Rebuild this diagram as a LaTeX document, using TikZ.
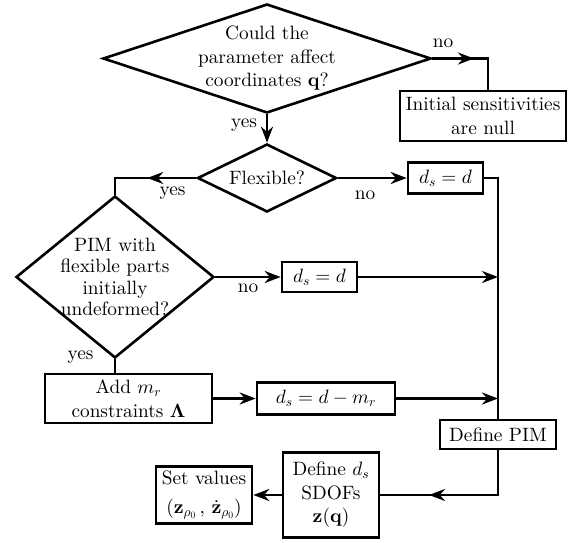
\documentclass[tikz,border=0pt]{standalone}
\usepackage{amsmath}
\usepackage{bm}
\usepackage{fontspec}
\setmainfont{lmroman10-regular}[Extension = .otf, BoldFont = lmroman10-bold,
  ItalicFont = lmroman10-italic, BoldItalicFont = lmroman10-bolditalic]
\DeclareFontShape{OML}{cmm}{m}{it}{<->cmmi10}{}
\DeclareFontShape{OML}{cmm}{b}{it}{<->cmmib10}{}
\DeclareFontShape{OMS}{cmsy}{m}{n}{<->cmsy10}{}
\DeclareFontShape{OMS}{cmsy}{b}{n}{<->cmbsy10}{}
\DeclareFontShape{OMX}{cmex}{m}{n}{<->cmex10}{}
\DeclareFontShape{OT1}{cmr}{m}{n}{<->cmr10}{}
\DeclareFontShape{OT1}{cmr}{bx}{n}{<->cmbx10}{}
\usetikzlibrary{shapes.geometric,arrows.meta,decorations.markings}
\tikzset{decision/.style={draw = black, diamond, line width = 2.6pt,
    inner sep = 0pt, align = center},
  block/.style={draw = black, rectangle, line width = 2.6pt,
    inner sep = 2pt, align = center},
  link/.style={line width = 2.6pt, -{Stealth[length = 16pt, width = 12pt]}},
  wire/.style={line width = 2.6pt},
  midarrow/.style={postaction = {decorate}, decoration = {markings,
    mark = at position #1 with {\arrow{Stealth[length = 16pt, width = 12pt]}}}},
  midarrow/.default = 0.5
}

\begin{document}
\begin{tikzpicture}[x = 1pt, y = -1pt, font = \fontsize{19.3}{23.5}\selectfont]
    \useasboundingbox (0, 0) rectangle (574, 543);
    \draw (267, 58.5) node[decision, aspect = 3, inner sep = -6pt,
    minimum width = 328pt, minimum height = 109pt]
    (param) {Could the\\parameter affect\\coordinates $\mathbf{q}$?};
    \draw (483, 116) node[block, minimum width = 166pt, minimum height = 50pt]
    (null) {Initial sensitivities\\are null};
    \draw (267, 178) node[decision, aspect = 2, minimum width = 139pt,
    minimum height = 68pt]
    (flex) {Flexible?};
    \draw (445.5, 178) node[block, minimum width = 75pt, minimum height = 31pt]
    (dsA) {$d_s = d$};
    \draw (115, 277) node[decision, aspect = 1.2, inner sep = -8pt,
    minimum width = 198pt, minimum height = 162pt,
    font = \fontsize{19.3}{21.5}\selectfont]
    (pim) {PIM with\\flexible parts\\initially\\undeformed?};
    \draw (319.5, 277) node[block, minimum width = 75pt, minimum height = 30pt]
    (dsB) {$d_s = d$};
    \draw (128.5, 398.5) node[block, minimum width = 167pt, minimum height = 49pt]
    (add) {Add $m_r$\\constraints $\boldsymbol{\Lambda}$};
    \draw (326, 398.5) node[block, minimum width = 138pt, minimum height = 32pt]
    (dsC) {$d_s = d - m_r$};
    \draw (498, 434.5) node[block, minimum width = 116pt, minimum height = 29pt]
    (define) {Define PIM};
    \draw (331, 495) node[block, minimum width = 96pt, minimum height = 85pt]
    (sdof) {Define $d_s$\\SDOFs\\$\mathbf{z}(\mathbf{q})$};
    \draw (204, 495) node[block, minimum width = 96pt, minimum height = 57pt]
    (setval) {Set values\\[5pt]$(\mathbf{z}_{\rho_0}\,,\, \dot{\mathbf{z}}_{\rho_0})$};
    \draw (443, 43) node (noA) {no};
    \draw (244, 125) node (yesA) {yes};
    \draw (172.5, 193) node (yesB) {yes};
    \draw (365, 195) node (noB) {no};
    \draw (248, 288) node (noC) {no};
    \draw (80.5, 357) node (yesC) {yes};
    \draw[wire, midarrow = 0.48] (param.east) -| ([xshift = 5pt]null.north);
    \draw[link] (param.south) -- (flex.north);
    \draw[wire, midarrow = 0.5] (flex.west) -| (pim.north);
    \draw[link] (flex.east) -- (dsA.west);
    \draw[wire] (dsA.east) -| (define.north);
    \draw[link] (pim.east) -- (dsB.west);
    \draw[link] (dsB.east) -- (dsB.east -| define.north);
    \draw[wire] (pim.south) -- (pim.south |- add.north);
    \draw[link] (add.east) -- (dsC.west);
    \draw[link] (dsC.east) -- (dsC.east -| define.north);
    \draw[wire, midarrow = 0.7] (define.south) |- (sdof.east);
    \draw[link] (sdof.west) -- (setval.east);
  \end{tikzpicture}
\end{document}
